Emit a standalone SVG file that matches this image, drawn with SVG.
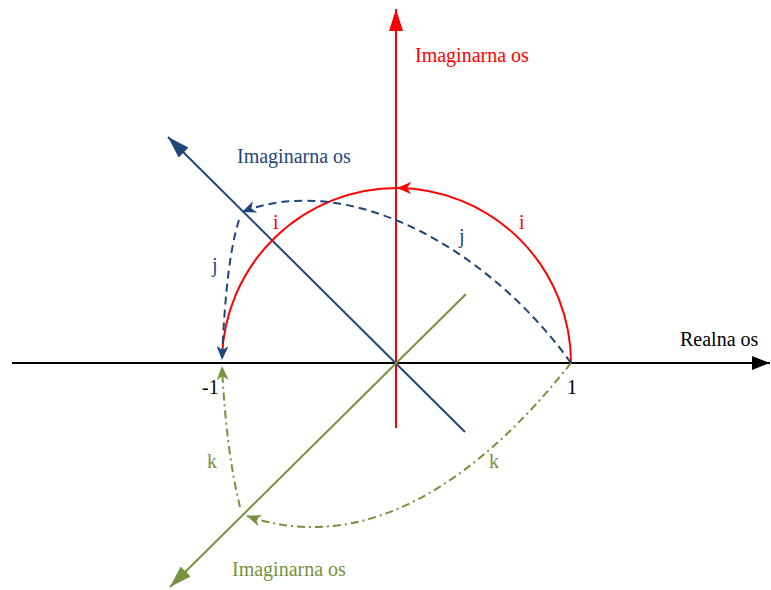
<svg xmlns="http://www.w3.org/2000/svg" width="771" height="590" viewBox="0 0 771 590">
<style>
text{font-family:"Liberation Serif","Times New Roman",serif;font-size:20px}
.ax{fill:none;stroke-width:2}
.red{stroke:#ff0000}
.blue{stroke:#1f457a}
.green{stroke:#76923c}
.blk{stroke:#000}
.tr{fill:#ff0000}
.tb{fill:#1f457a}
.tg{fill:#76923c}
.tk{fill:#000}
.dash{stroke-dasharray:8 5}
.dashdot{stroke-dasharray:8 4 2 4}
</style>
<defs>
<marker id="aK" viewBox="0 0 18 14" refX="18" refY="7" markerWidth="18" markerHeight="14" markerUnits="userSpaceOnUse" orient="auto"><path d="M0,0 L18,7 L0,14 z" fill="#000"/></marker>
<marker id="aR" viewBox="0 0 22 14" refX="22" refY="7" markerWidth="22" markerHeight="14" markerUnits="userSpaceOnUse" orient="auto"><path d="M0,0 L22,7 L0,14 z" fill="#ff0000"/></marker>
<marker id="aB" viewBox="0 0 22 14" refX="22" refY="7" markerWidth="22" markerHeight="14" markerUnits="userSpaceOnUse" orient="auto"><path d="M0,0 L22,7 L0,14 z" fill="#1f457a"/></marker>
<marker id="aG" viewBox="0 0 22 14" refX="22" refY="7" markerWidth="22" markerHeight="14" markerUnits="userSpaceOnUse" orient="auto"><path d="M0,0 L22,7 L0,14 z" fill="#76923c"/></marker>
<marker id="sR" viewBox="0 0 14 12" refX="14" refY="6" markerWidth="14" markerHeight="12" markerUnits="userSpaceOnUse" orient="auto"><path d="M0,0 L14,6 L0,12 L4,6 z" fill="#ff0000"/></marker>
<marker id="sB" viewBox="0 0 14 12" refX="14" refY="6" markerWidth="14" markerHeight="12" markerUnits="userSpaceOnUse" orient="auto"><path d="M0,0 L14,6 L0,12 L4,6 z" fill="#1f457a"/></marker>
<marker id="sG" viewBox="0 0 14 12" refX="14" refY="6" markerWidth="14" markerHeight="12" markerUnits="userSpaceOnUse" orient="auto"><path d="M0,0 L14,6 L0,12 L4,6 z" fill="#76923c"/></marker>
</defs>
<g id="axes">
<path id="axis-real" class="ax blk" d="M12,363 L770,363" marker-end="url(#aK)"/>
<path id="axis-red" class="ax red" d="M396,428 L396,9" marker-end="url(#aR)"/>
<path id="axis-blue" class="ax blue" d="M465,432 L168,137" marker-end="url(#aB)"/>
<path id="axis-green" class="ax green" d="M466,294 L170,587" marker-end="url(#aG)"/>
</g>
<g id="connectors">
<path class="ax red" d="M571,363 A175,175 0 0 0 397,188" marker-end="url(#sR)"/>
<path class="ax red" d="M397,188 A175,175 0 0 0 222,358"/>
<path class="ax blue dash" d="M571,363 C490,250 350,170 242,212" marker-end="url(#sB)"/>
<path class="ax blue dash" d="M239,220 Q226,260 222,360" marker-end="url(#sB)"/>
<path class="ax green dashdot" d="M571,363 C510,440 390,565 247,516" marker-end="url(#sG)"/>
<path class="ax green dashdot" d="M240,507 Q226,450 222,366" marker-end="url(#sG)"/>
</g>
<g id="labels">
<text x="415" y="62" class="tr">Imaginarna os</text>
<text x="237" y="163" class="tb">Imaginarna os</text>
<text x="232" y="576" class="tg">Imaginarna os</text>
<text x="680" y="346" class="tk">Realna os</text>
<text x="202" y="394" class="tk">-1</text>
<text x="567" y="394" class="tk">1</text>
<text x="273" y="229" class="tr">i</text>
<text x="519" y="229" class="tr">i</text>
<text x="459" y="243" class="tb">j</text>
<text x="212" y="272" class="tb">j</text>
<text x="207" y="468" class="tg">k</text>
<text x="489" y="468" class="tg">k</text>
</g>
</svg>
